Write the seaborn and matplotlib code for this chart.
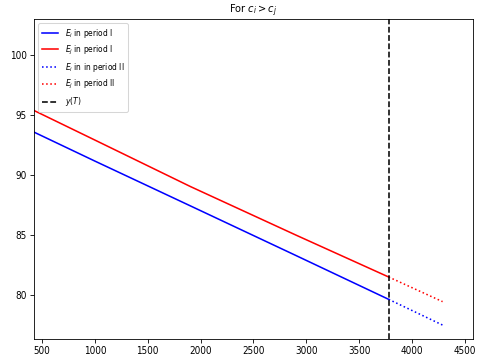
import numpy as np
import pandas as pd
import seaborn as sns
import matplotlib
matplotlib.use("Agg")
import matplotlib.pyplot as plt

plt.rcParams["font.stretch"] = "condensed"

# ── Data ─────────────────────────────────────────────────────────────────────
x_period1 = [424, 1000, 1904, 2900, 3780]
ei_period1 = [93.56, 91.15, 87.42, 83.30, 79.64]
ej_period1 = [95.36, 92.90, 89.03, 85.00, 81.50]

x_period2 = [3780, 4290]
ei_period2 = [79.64, 77.50]
ej_period2 = [81.50, 79.45]

y_T = 3780

# ── Plot ─────────────────────────────────────────────────────────────────────
fig, ax = plt.subplots(figsize=(6.413, 4.8), dpi=75)

sns.lineplot(x=x_period1, y=ei_period1, color="blue", ax=ax, label="$E_i$ in period I")
sns.lineplot(x=x_period1, y=ej_period1, color="red", ax=ax, label="$E_j$ in period I")
sns.lineplot(x=x_period2, y=ei_period2, color="blue", linestyle=":", ax=ax,
             label="$E_i$ in in period II")
sns.lineplot(x=x_period2, y=ej_period2, color="red", linestyle=":", ax=ax,
             label="$E_j$ in period II")
ax.axvline(y_T, color="black", linestyle="--", label="$y(T)$")

ax.set_xlim(424, 4576)
ax.set_ylim(76.33, 102.97)
ax.set_xticks([500, 1000, 1500, 2000, 2500, 3000, 3500, 4000, 4500])
ax.set_yticks([80, 85, 90, 95, 100])
ax.tick_params(labelsize=9.5)
ax.set_title("For $c_i > c_j$", fontsize=10.5)
ax.legend(loc="upper left", fontsize=8)

fig.subplots_adjust(left=0.0707, right=0.983, top=0.947, bottom=0.058)
fig.savefig("out.png", dpi=75)
